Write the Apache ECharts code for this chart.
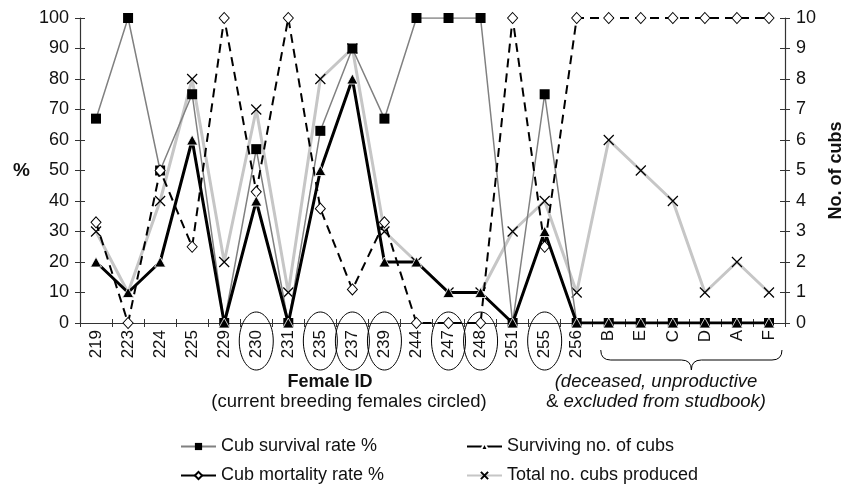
<!DOCTYPE html>
<html><head><meta charset="utf-8">
<script src="https://cdn.jsdelivr.net/npm/echarts@6/dist/echarts.min.js"></script>
<style>html,body{margin:0;padding:0;background:#fff}#c{width:853px;height:488px}</style>
</head><body><div id="c"></div>
<script>
const categories = ['219','223','224','225','229','230','231','235','237','239','244','247','248','251','255','256','B','E','C','D','A','F'];
const survivalRate = [67,100,50,75,0,57,0,63,90,67,100,100,100,0,75,0,0,0,0,0,0,0];
const mortalityRate = [33,0,50,25,100,43,100,37.5,11,33,0,0,0,100,25,100,100,100,100,100,100,100];
const survivingCubs = [2,1,2,6,0,4,0,5,8,2,2,1,1,0,3,0,0,0,0,0,0,0];
const totalCubs = [3,1,4,8,2,7,1,8,9,3,2,1,1,3,4,1,6,5,4,1,2,1];
const circled = ['230','235','237','239','247','248','255'];
const pctTicks = {min:0, max:100, interval:10};
const cubTicks = {min:0, max:10, interval:1};

const FONT = 'Liberation Sans, Arial, Helvetica, sans-serif';
const chart = echarts.init(document.getElementById('c'), null, {renderer:'canvas'});
const axisCol = '#333';
const xMark = 'path://M0,0L10,10M10,0L0,10';

function legendAt(name, left, centerY) {
  const h = 9;
  return {left:left, top:centerY - h / 2, padding:0, orient:'horizontal', itemWidth:35, itemHeight:h,
    lineStyle:{type:'solid'},
    textStyle:{fontSize:18, color:'#111', fontFamily:FONT}, data:[name], selectedMode:false};
}

const option = {
  animation:false,
  backgroundColor:'#fff',
  textStyle:{fontFamily:FONT},
  grid:{left:80, right:68, top:18, bottom:165, containLabel:false},
  legend:[
    legendAt('Cub survival rate %', 180, 442),
    legendAt('Cub mortality rate %', 180, 471),
    legendAt('Surviving no. of cubs', 466, 442),
    legendAt('Total no. cubs produced', 466, 471)
  ],
  xAxis:[
    {type:'category', data:categories, position:'bottom',
     axisLine:{lineStyle:{color:axisCol, width:1.2}},
     axisTick:{show:true, length:4, lineStyle:{color:axisCol}},
     axisLabel:{rotate:90, margin:7, fontSize:17, color:'#111', fontFamily:FONT}},
    {type:'category', data:categories, position:'bottom',
     axisLine:{show:false}, axisTick:{show:true, inside:true, length:4, lineStyle:{color:axisCol}},
     axisLabel:{show:false}}
  ],
  yAxis:[
    {type:'value', position:'left', min:pctTicks.min, max:pctTicks.max, interval:pctTicks.interval,
     name:'%', nameLocation:'middle', nameRotate:0, nameGap:50,
     nameTextStyle:{fontSize:19, fontWeight:'bold', color:'#111', fontFamily:FONT},
     axisLine:{show:true, lineStyle:{color:axisCol, width:1.2}},
     axisTick:{show:true, length:5, lineStyle:{color:axisCol}},
     splitLine:{show:false},
     axisLabel:{fontSize:18, color:'#111', margin:11, fontFamily:FONT}},
    {type:'value', position:'right', min:cubTicks.min, max:cubTicks.max, interval:cubTicks.interval,
     name:'No. of cubs', nameLocation:'middle', nameRotate:90, nameGap:42,
     nameTextStyle:{fontSize:18, fontWeight:'bold', color:'#111', fontFamily:FONT},
     axisLine:{show:true, lineStyle:{color:axisCol, width:1.2}},
     axisTick:{show:true, length:5, lineStyle:{color:axisCol}},
     splitLine:{show:false},
     axisLabel:{fontSize:18, color:'#111', margin:11, fontFamily:FONT}},
    {type:'value', position:'left', min:pctTicks.min, max:pctTicks.max, interval:pctTicks.interval,
     axisLine:{show:false}, axisTick:{show:true, inside:true, length:5, lineStyle:{color:axisCol}},
     axisLabel:{show:false}, splitLine:{show:false}},
    {type:'value', position:'right', min:cubTicks.min, max:cubTicks.max, interval:cubTicks.interval,
     axisLine:{show:false}, axisTick:{show:true, inside:true, length:5, lineStyle:{color:axisCol}},
     axisLabel:{show:false}, splitLine:{show:false}}
  ],
  series:[
    {name:'Total no. cubs produced', type:'line', yAxisIndex:1, data:totalCubs, z:2,
     lineStyle:{color:'#c6c6c6', width:3}, symbol:xMark, symbolSize:10, showAllSymbol:true,
     itemStyle:{color:'rgba(0,0,0,0)', borderColor:'#000', borderWidth:1.2}},
    {name:'Cub survival rate %', type:'line', yAxisIndex:0, data:survivalRate, z:3,
     lineStyle:{color:'#808080', width:1.5}, symbol:'rect', symbolSize:10, showAllSymbol:true,
     itemStyle:{color:'#000', borderColor:'#000', borderWidth:0}},
    {name:'Cub mortality rate %', type:'line', yAxisIndex:0, data:mortalityRate, z:4,
     lineStyle:{color:'#000', width:2, type:[9,6]}, symbol:'diamond', symbolSize:[10,11], showAllSymbol:true,
     itemStyle:{color:'#fff', borderColor:'#000', borderWidth:1}},
    {name:'Surviving no. of cubs', type:'line', yAxisIndex:1, data:survivingCubs, z:5,
     lineStyle:{color:'#000', width:3}, symbol:'triangle', symbolSize:[11,10], showAllSymbol:true,
     itemStyle:{color:'#000', borderColor:'#fff', borderWidth:0.8}}
  ]
};
chart.setOption(option);

const S = {fill:'none', stroke:'#000', lineWidth:1};
const cy = 341;
const graphics = circled.map(c => {
  const x = chart.convertToPixel({xAxisIndex:0}, c);
  return {type:'ellipse', shape:{cx:x, cy:cy, rx:17, ry:29}, style:S, z:100};
});
const xB = chart.convertToPixel({xAxisIndex:0}, 'B');
const xF = chart.convertToPixel({xAxisIndex:0}, 'F');
const l = xB - 8, r = xF + 13, m = (l + r) / 2;
graphics.push({type:'bezierCurve', shape:{x1:l, y1:350, cpx1:l, cpy1:360, x2:l+10, y2:360}, style:S, z:100});
graphics.push({type:'line', shape:{x1:l+10, y1:360, x2:m-10, y2:360}, style:S, z:100});
graphics.push({type:'bezierCurve', shape:{x1:m-10, y1:360, cpx1:m, cpy1:360, x2:m, y2:370}, style:S, z:100});
graphics.push({type:'bezierCurve', shape:{x1:m, y1:370, cpx1:m, cpy1:360, x2:m+10, y2:360}, style:S, z:100});
graphics.push({type:'line', shape:{x1:m+10, y1:360, x2:r-10, y2:360}, style:S, z:100});
graphics.push({type:'bezierCurve', shape:{x1:r-10, y1:360, cpx1:r, cpy1:360, x2:r, y2:350}, style:S, z:100});
graphics.push({type:'text', x:330, y:382, style:{text:'Female ID', font:`bold 18px ${FONT}`, fill:'#111', align:'center', verticalAlign:'middle'}});
graphics.push({type:'text', x:349, y:402, style:{text:'(current breeding females circled)', font:`18.5px ${FONT}`, fill:'#111', align:'center', verticalAlign:'middle'}});
graphics.push({type:'text', x:656, y:382, style:{text:'(deceased, unproductive', font:`italic 18.5px ${FONT}`, fill:'#111', align:'center', verticalAlign:'middle'}});
graphics.push({type:'text', x:656, y:402, style:{
  rich:{n:{fontSize:18.5, fontStyle:'normal', fontFamily:FONT, fill:'#111'}, i:{fontSize:18.5, fontStyle:'italic', fontFamily:FONT, fill:'#111'}},
  text:'{n|&} {i|excluded from studbook)}', fontSize:18.5, fontFamily:FONT, align:'center', verticalAlign:'middle'}});
chart.setOption({graphic:graphics});
</script>
</body></html>
